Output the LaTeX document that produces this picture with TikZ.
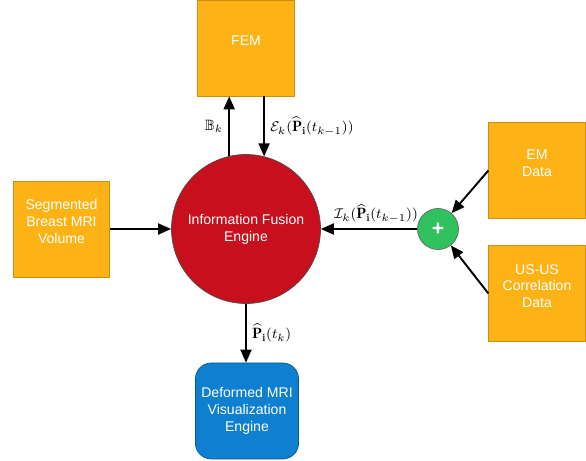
\documentclass[tikz,border=0pt]{standalone}
\usepackage{amsmath,amssymb}
\usepackage{fontspec}
\setsansfont{Liberation Sans}
\usetikzlibrary{arrows.meta,positioning}

\definecolor{boxorange}{HTML}{FDB316}
\definecolor{fusionred}{HTML}{C80F1E}
\definecolor{sumgreen}{HTML}{2FC25E}
\definecolor{vizblue}{HTML}{0F7FCF}

\begin{document}
\begin{tikzpicture}[
    x=0.2mm, y=-0.2mm,
    font=\sffamily\fontsize{8}{9.6}\selectfont, line width=1.1pt,
    block/.style={draw=boxorange!80!black,line width=0.4pt,fill=boxorange,text=white,align=center,
        minimum width=1.93cm,minimum height=1.92cm,inner sep=2pt},
    engine/.style={circle,draw=black!70,line width=0.4pt,fill=fusionred,text=white,align=center,
        minimum size=2.98cm,inner sep=0pt},
    adder/.style={circle,draw=black!60,line width=0.4pt,fill=sumgreen,text=white,
        minimum size=0.82cm,inner sep=0pt,font=\sffamily\bfseries\large},
    viewer/.style={draw=vizblue!70!black,line width=0.4pt,fill=vizblue,text=white,align=center,
        rounded corners=9pt,minimum width=1.96cm,minimum height=1.92cm},
    arrow/.style={-{Triangle[length=2.6mm,width=2.2mm]},line width=1.1pt},
    lbl/.style={font=\fontsize{8.5}{10}\selectfont,inner sep=3pt}
]
\path[use as bounding box] (0,0) rectangle (586,461);

% blocks
\node[block] (fem) at (246,48) {FEM\\[-1.7pt]};
\node[block] (mri) at (61.5,229) {Segmented\\Breast MRI\\Volume\\[-1.1pt]};
\node[engine] (fusion) at (246,229) {Information Fusion\\Engine};
\node[block] (em) at (537,170.5) {EM\\Data\\[-1.1pt]};
\node[block] (usus) at (537,293.5) {US-US\\Correlation\\Data\\[-1.1pt]};
\node[adder] (sum) at (438,229) {+};
\node[viewer] (viz) at (247,411) {Deformed MRI\\Visualization\\Engine};

% connectors
\draw[arrow] (fusion.103) -- (fusion.103 |- fem.south)
    node[midway,left,lbl] {$\mathbb{B}_k$};
\draw[arrow] (fusion.76 |- fem.south) -- (fusion.76)
    node[midway,right,lbl] {$\mathcal{E}_k(\widehat{\mathbf{P}}_{\mathbf{i}}(t_{k-1}))$};
\draw[arrow] (mri.east) -- (fusion.west);
\draw[arrow] (sum.west) -- (fusion.east)
    node[midway,above,lbl,xshift=4pt] {$\mathcal{I}_k(\widehat{\mathbf{P}}_{\mathbf{i}}(t_{k-1}))$};
\draw[arrow] (em.west) -- (sum);
\draw[arrow] (usus.west) -- (sum);
\draw[arrow] (fusion.south) -- (fusion.south |- viz.north)
    node[midway,right,lbl] {$\widehat{\mathbf{P}}_{\mathbf{i}}(t_k)$};
\end{tikzpicture}
\end{document}
